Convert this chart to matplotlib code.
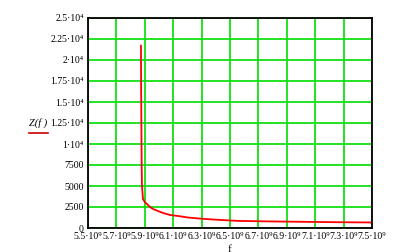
import matplotlib
matplotlib.use("Agg")
import matplotlib.pyplot as plt
from matplotlib.lines import Line2D

plt.rcParams['font.family'] = ['Liberation Serif', 'DejaVu Serif']

# data (f in GHz, Z in ohms)
f_ghz = [5.873, 5.874, 5.878, 5.880, 5.887, 5.900, 5.915, 5.937, 5.958, 5.993,
         6.028, 6.077, 6.134, 6.204, 6.296, 6.40, 6.55, 6.75, 7.0, 7.25, 7.49, 7.5]
z_vals = [21700, 16800, 7400, 5100, 3450, 3100, 2860, 2500, 2260, 2020,
          1790, 1550, 1430, 1250, 1110, 990, 850, 790, 740, 690, 660, 560]

xticks = [5.5, 5.7, 5.9, 6.1, 6.3, 6.5, 6.7, 6.9, 7.1, 7.3, 7.5]
xtick_labels = ["5.5\u00b710\u2079", "5.7\u00b710\u2079", "5.9\u00b710\u2079", "6.1\u00b710\u2079",
                "6.3\u00b710\u2079", "6.5\u00b710\u2079", "6.7\u00b710\u2079", "6.9\u00b710\u2079",
                "7.1\u00b710\u2079", "7.3\u00b710\u2079", "7.5\u00b710\u2079"]
yticks = [0, 2500, 5000, 7500, 10000, 12500, 15000, 17500, 20000, 22500, 25000]
ytick_labels = ["0", "2500", "5000", "7500", "1\u00b710\u2074", "1.25\u00b710\u2074", "1.5\u00b710\u2074",
                "1.75\u00b710\u2074", "2\u00b710\u2074", "2.25\u00b710\u2074", "2.5\u00b710\u2074"]

fig = plt.figure(figsize=(3.99, 2.52), dpi=100)
ax = fig.add_axes([88/399, 24/252, 284/399, 210/252])
ax.plot(f_ghz, z_vals, color='#ff0000', lw=1.3, zorder=3)
ax.set_xlim(5.5, 7.5)
ax.set_ylim(0, 25000)
ax.set_xticks(xticks)
ax.set_xticklabels(xtick_labels)
ax.set_yticks(yticks)
ax.set_yticklabels(ytick_labels)
ax.tick_params(length=0, labelsize=7, pad=3)
ax.grid(True, color='#00dd00', lw=1.2)
for s in ax.spines.values():
    s.set_color('black')
    s.set_linewidth(1.3)
    s.set_zorder(4)

fig.text(230/399, 1 - 249/252, "f", ha='center', va='center', fontsize=8)
fig.text(29/399, 1 - 123/252, "Z(f )", ha='left', va='center', fontsize=7.5, style='italic')
fig.add_artist(Line2D([29/399, 48/399], [1 - 133/252, 1 - 133/252], color='#cc0000', lw=1.2))

fig.savefig("out.png", dpi=100)
